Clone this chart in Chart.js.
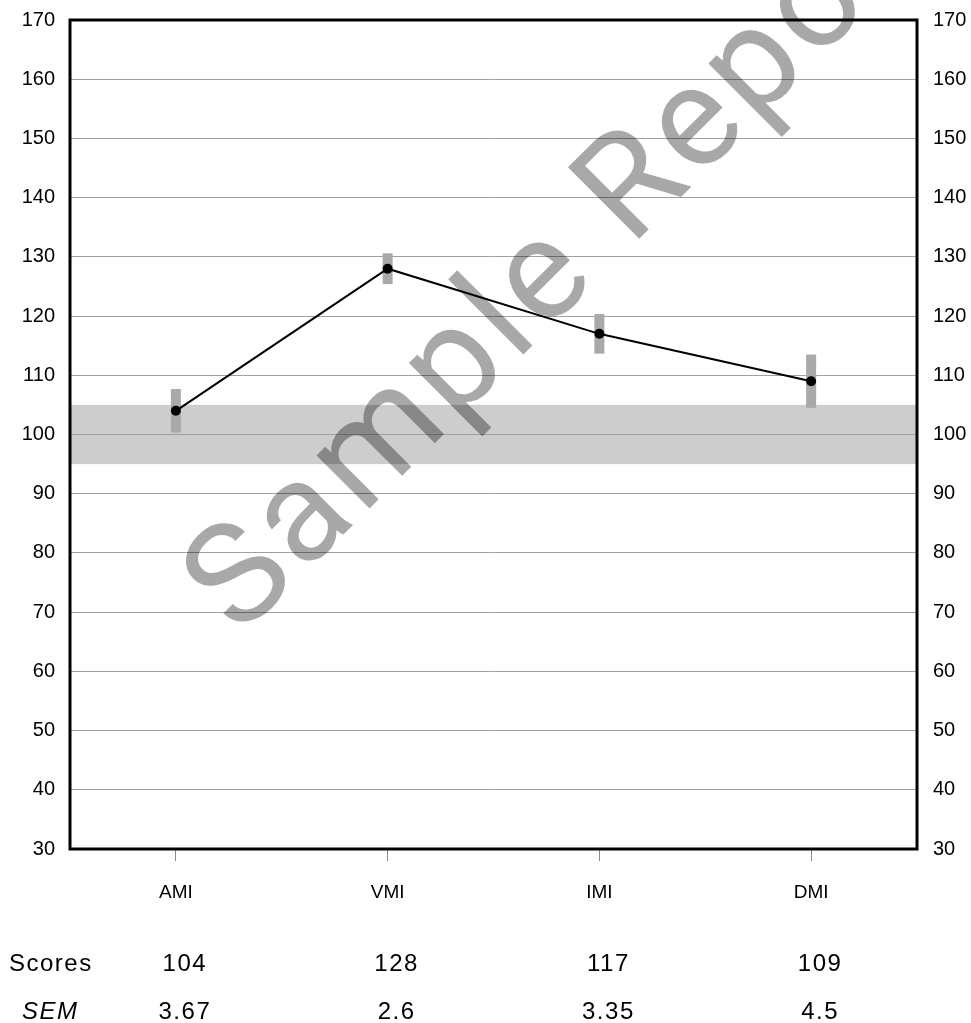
<!DOCTYPE html>
<html>
<head>
<meta charset="utf-8">
<script src="https://cdn.jsdelivr.net/npm/chart.js@4.4.1/dist/chart.umd.min.js"></script>
<style>
    body { margin: 0; background: #fff; }
    #wrap { width: 971px; height: 1023px; position: relative; }
</style>
</head>
<body>
<div id="wrap"><canvas id="scoreChart"></canvas></div>
<script>
// donnees du graphique
const categories = ['AMI', 'VMI', 'IMI', 'DMI'];
const scores = [104, 128, 117, 109];
const sem = [3.67, 2.6, 3.35, 4.5];
const semLabels = ['3.67', '2.6', '3.35', '4.5'];
const yTicks = [30, 40, 50, 60, 70, 80, 90, 100, 110, 120, 130, 140, 150, 160, 170];
const averageBand = [95, 105];
const watermarkText = 'Sample Report';

const FONT = '"Liberation Sans", Arial, Helvetica, sans-serif';

// bande moyenne, barres d'erreur, cadre, tableau et filigrane
const extras = {
    id: 'extras',
    beforeDraw(chart) {
        const { ctx, chartArea: a, scales: { y } } = chart;
        const top = y.getPixelForValue(averageBand[1]);
        const bot = y.getPixelForValue(averageBand[0]);
        ctx.save();
        ctx.fillStyle = '#cdcdcd';
        ctx.fillRect(a.left, top, a.right - a.left, bot - top);
        ctx.restore();
    },
    beforeDatasetsDraw(chart) {
        const { ctx, scales: { x, y } } = chart;
        ctx.save();
        ctx.fillStyle = '#a9a9a9';
        scores.forEach((v, i) => {
            const px = x.getPixelForValue(i);
            const t = y.getPixelForValue(v + sem[i]);
            const b = y.getPixelForValue(v - sem[i]);
            ctx.fillRect(px - 5, t, 10, b - t);
        });
        ctx.restore();
    },
    afterDraw(chart) {
        const { ctx, chartArea: a, scales: { x } } = chart;
        ctx.save();
        ctx.strokeStyle = '#000';
        ctx.lineWidth = 3;
        ctx.strokeRect(a.left, a.top, a.right - a.left, a.bottom - a.top);

        // tableau des scores
        ctx.fillStyle = '#000';
        ctx.textBaseline = 'alphabetic';
        ctx.letterSpacing = '1.5px';
        ctx.font = '24px ' + FONT;
        ctx.textAlign = 'left';
        ctx.fillText('Scores', 9, 971);
        ctx.font = 'italic 24px ' + FONT;
        ctx.fillText('SEM', 22, 1019);
        ctx.font = '24px ' + FONT;
        ctx.textAlign = 'center';
        scores.forEach((v, i) => {
            const px = x.getPixelForValue(i) + 9;
            ctx.fillText(String(v), px, 971);
            ctx.fillText(semLabels[i], px, 1019);
        });

        // filigrane
        ctx.letterSpacing = '6px';
        ctx.translate(240, 638);
        ctx.rotate(-Math.PI / 4);
        ctx.font = '142px Roboto, ' + FONT;
        ctx.fillStyle = 'rgba(0,0,0,0.34)';
        ctx.textAlign = 'left';
        ctx.fillText(watermarkText, 0, 0);
        ctx.restore();
    }
};

const ctx = document.getElementById('scoreChart').getContext('2d');

const fitY = w => s => {
    s.width = w;
    s.paddingTop = 0;
    s.paddingBottom = 0;
};

const yCommon = {
    type: 'linear',
    min: yTicks[0],
    max: yTicks[yTicks.length - 1],
    afterBuildTicks: scale => { scale.ticks = yTicks.map(v => ({ value: v })); },
    border: { display: false },
    ticks: { color: '#000', font: { family: FONT, size: 20 } }
};

new Chart(ctx, {
    type: 'line',
    data: {
        labels: categories,
        datasets: [{
            data: scores,
            borderColor: '#000',
            borderWidth: 2,
            backgroundColor: '#000',
            pointRadius: 5,
            pointBackgroundColor: '#000',
            pointBorderWidth: 0,
            tension: 0
        }]
    },
    options: {
        responsive: true,
        maintainAspectRatio: false,
        animation: false,
        layout: { padding: { top: 20, left: 0, right: 0, bottom: 0 } },
        plugins: { legend: { display: false }, tooltip: { enabled: false } },
        scales: {
            x: {
                offset: true,
                border: { display: false },
                grid: { drawOnChartArea: false, drawTicks: true, tickLength: 12, color: '#888' },
                ticks: { color: '#000', padding: 20, font: { family: FONT, size: 19 } },
                afterFit: s => { s.height = 174; }
            },
            y: Object.assign({}, yCommon, {
                position: 'left',
                grid: { color: '#a0a0a0', drawTicks: false, lineWidth: 1 },
                ticks: Object.assign({}, yCommon.ticks, { padding: 15 }),
                afterFit: fitY(70)
            }),
            y2: Object.assign({}, yCommon, {
                position: 'right',
                grid: { drawOnChartArea: false, drawTicks: false },
                ticks: Object.assign({}, yCommon.ticks, { padding: 16 }),
                afterFit: fitY(54)
            })
        }
    },
    plugins: [extras]
});
</script>
</body>
</html>
